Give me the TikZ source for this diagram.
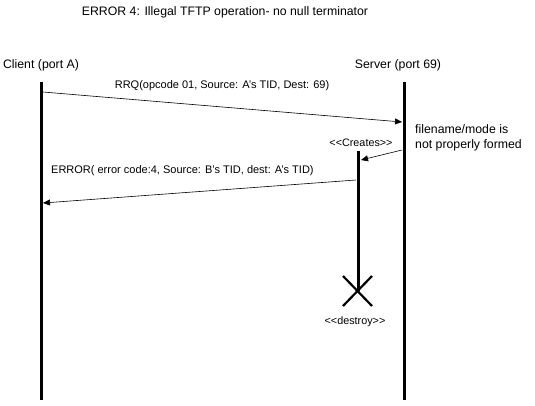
\documentclass[tikz,border=0pt]{standalone}
\usepackage{fontspec}
\setmainfont[Ligatures=NoCommon]{Liberation Sans}
\usetikzlibrary{arrows.meta}

\begin{document}
\begin{tikzpicture}[x=1pt, y=-1pt, every node/.style={inner sep=0pt, font=\fontsize{12.3}{15}\selectfont},
    lifeline/.style={line width=3pt}, msg/.style={-{Triangle[length=7pt, width=6pt]}, line width=0.6pt},
    msglabel/.style={font=\fontsize{11}{13}\selectfont},
    stereo/.style={font=\fontsize{10.8}{12}\selectfont}]
            \useasboundingbox (0,0) rectangle (535,405);

            \node (title) at (225,12) {ERROR 4: Illegal TFTP operation- no null terminator};
            \node (client) at (41,65) {Client (port A)};
            \node (server) at (398,65) {Server (port 69)};

            % lifelines
            \coordinate (c0) at (41,82);
            \coordinate (c1) at (41,400);
            \coordinate (s0) at (404,82);
            \coordinate (s1) at (404,400);
            \coordinate (b0) at (358,151);
            \coordinate (b1) at (358,291);
            \draw[lifeline] (c0) -- (c1);
            \draw[lifeline] (s0) -- (s1);
            \draw[lifeline] (b0) -- (b1);

            % destroy mark
            \draw[line width=2.2pt] (343,276) -- (372,306);
            \draw[line width=2.2pt] (372,276) -- (343,306);
            \node[stereo] (destroy) at (355,322) {{<}{<}destroy{>}{>}};
            \node[stereo] (creates) at (361,143) {{<}{<}Creates{>}{>}};

            % messages
            \coordinate (m1a) at (43,92);
            \coordinate (m1b) at (402,122);
            \coordinate (m2a) at (402,150);
            \coordinate (m2b) at (361,160);
            \coordinate (m3a) at (356,180);
            \coordinate (m3b) at (43,203);
            \draw[msg] (m1a) -- (m1b);
            \draw[msg] (m2a) -- (m2b);
            \draw[msg] (m3a) -- (m3b);

            \node[msglabel] (rrq) at (222,86) {RRQ(opcode 01, Source: A's TID, Dest: 69)};
            \node[anchor=west, align=left] (note) at (415,138) {filename/mode is\\not properly formed};
            \node[msglabel, anchor=west] (err) at (51,171) {ERROR( error code:4, Source: B's TID, dest: A's TID)};
        \end{tikzpicture}
\end{document}
